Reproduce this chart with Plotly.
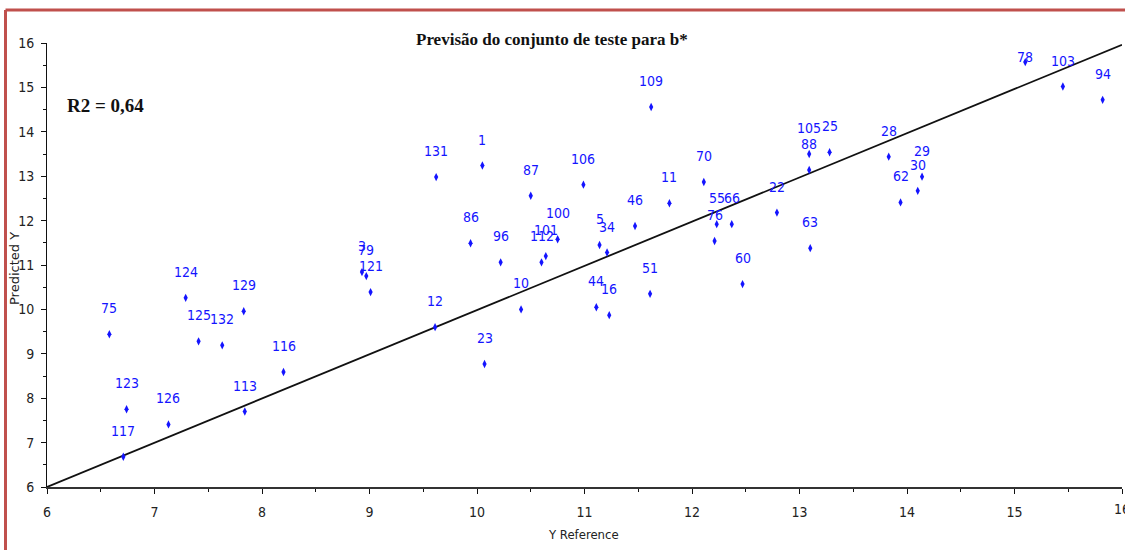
import plotly.graph_objects as go

# Test-set samples: identifier, reference value and predicted value of b*
sample_ids = [
    "75", "124", "125", "132", "129", "116", "3", "79", "121", "123",
    "117", "126", "113", "86", "96", "112", "101", "100", "5", "34",
    "10", "12", "23", "44", "16", "51", "60", "76", "55", "66",
    "70", "22", "63", "105", "88", "25", "109", "131", "1", "87",
    "106", "46", "11", "78", "103", "94", "28", "29", "30", "62",
]
y_reference = [
    6.58, 7.29, 7.41, 7.63, 7.83, 8.20, 8.93, 8.97, 9.01, 6.74,
    6.71, 7.13, 7.84, 9.94, 10.22, 10.60, 10.64, 10.75, 11.14, 11.21,
    10.41, 9.61, 10.07, 11.11, 11.23, 11.61, 12.47, 12.21, 12.23, 12.37,
    12.11, 12.79, 13.10, 13.09, 13.09, 13.28, 11.62, 9.62, 10.05, 10.50,
    10.99, 11.47, 11.79, 15.10, 15.45, 15.82, 13.83, 14.14, 14.10, 13.94,
]
y_predicted = [
    9.44, 10.26, 9.28, 9.19, 9.96, 8.59, 10.84, 10.75, 10.39, 7.75,
    6.68, 7.41, 7.70, 11.49, 11.06, 11.06, 11.20, 11.58, 11.45, 11.28,
    10.00, 9.60, 8.77, 10.05, 9.87, 10.35, 10.57, 11.54, 11.92, 11.92,
    12.87, 12.18, 11.38, 13.50, 13.14, 13.54, 14.56, 12.98, 13.24, 12.56,
    12.81, 11.88, 12.39, 15.57, 15.02, 14.72, 13.44, 12.99, 12.67, 12.41,
]

# Fitted regression line endpoints
fit_x = [6.0, 16.0]
fit_y = [6.0, 15.96]

axis_ticks = [6, 7, 8, 9, 10, 11, 12, 13, 14, 15, 16]
r2_text = "R2 = 0,64"
title_text = "Previsão do conjunto de teste para b*"

W, H = 1125, 550
M_L, M_R, M_T, M_B = 47, 3, 43, 63
AX_MIN, AX_MAX = 6, 16
PX_PER_Y = (H - M_T - M_B) / (AX_MAX - AX_MIN)

narrow = "Liberation Sans Narrow, Arial Narrow, DejaVu Sans Condensed, sans-serif"
serif = "Liberation Serif, Times New Roman, serif"
blue = "#1414ff"
tick_grey = "#222222"

fig = go.Figure()

fig.add_trace(go.Scatter(
    x=fit_x, y=fit_y, mode="lines",
    line=dict(color="#111111", width=1.8),
    hoverinfo="skip",
))

fig.add_trace(go.Scatter(
    x=y_reference, y=y_predicted, mode="markers",
    marker=dict(symbol="diamond-tall", size=6, color=blue),
    text=sample_ids,
    hovertemplate="%{text}: (%{x}, %{y})<extra></extra>",
))

annotations = []
# Sample labels sit above each point, kept inside the plotting area
for sid, xv, yv in zip(sample_ids, y_reference, y_predicted):
    room = (AX_MAX - yv) * PX_PER_Y - 14
    shift = min(26, room)
    annotations.append(dict(
        x=xv, y=yv, xref="x", yref="y", text=sid, showarrow=False,
        yshift=shift, xanchor="center", yanchor="middle",
        font=dict(family=narrow, size=14, color=blue),
    ))

plot_w = W - M_L - M_R
plot_h = H - M_T - M_B


def px_x(p):
    return (p - M_L) / plot_w


def px_y(p):
    return 1 - (p - M_T) / plot_h


annotations += [
    dict(x=px_x(552), y=px_y(40), xref="paper", yref="paper",
         text="<b>" + title_text + "</b>", showarrow=False,
         xanchor="center", yanchor="middle",
         font=dict(family=serif, size=17, color="#111111")),
    dict(x=px_x(105), y=px_y(105), xref="paper", yref="paper",
         text="<b>" + r2_text + "</b>", showarrow=False,
         xanchor="center", yanchor="middle",
         font=dict(family=serif, size=19, color="#111111")),
    dict(x=px_x(583), y=px_y(534), xref="paper", yref="paper",
         text="Y Reference", showarrow=False,
         xanchor="center", yanchor="middle",
         font=dict(family=narrow, size=13, color=tick_grey)),
    dict(x=px_x(14), y=px_y(269), xref="paper", yref="paper",
         text="Predicted Y", showarrow=False, textangle=-90,
         xanchor="center", yanchor="middle",
         font=dict(family="DejaVu Sans", size=13, color=tick_grey)),
    # last x tick label runs off the right edge of the page
    dict(x=AX_MAX, y=0, xref="x", yref="paper", text=str(AX_MAX),
         showarrow=False, xanchor="center", yanchor="top", yshift=-12,
         font=dict(family=narrow, size=14, color=tick_grey)),
]

frame_red = "#c0504d"
shapes = [
    dict(type="line", xref="paper", yref="paper",
         x0=px_x(5.5), x1=px_x(W + 2), y0=px_y(10), y1=px_y(10),
         line=dict(color=frame_red, width=3)),
    dict(type="line", xref="paper", yref="paper",
         x0=px_x(5.5), x1=px_x(5.5), y0=px_y(10), y1=px_y(H + 2),
         line=dict(color=frame_red, width=3)),
]

axis_common = dict(
    range=[AX_MIN, AX_MAX], tickvals=axis_ticks,
    ticktext=[str(t) for t in axis_ticks],
    showgrid=False, zeroline=False, showline=True,
    ticks="outside", ticklen=5, tickwidth=1, tickcolor="#111111",
    minor=dict(dtick=0.5, ticks="outside", ticklen=3, tickcolor="#111111"),
    tickfont=dict(family=narrow, size=14, color=tick_grey),
    fixedrange=True,
)

fig.update_layout(
    width=W, height=H, autosize=False,
    margin=dict(l=M_L, r=M_R, t=M_T, b=M_B, pad=0),
    paper_bgcolor="white", plot_bgcolor="white",
    showlegend=False,
    xaxis=dict(**axis_common, linecolor="#333333", linewidth=2,
               ticklabelstandoff=6),
    yaxis=dict(**axis_common, linecolor="#111111", linewidth=1,
               ticklabelstandoff=4),
    annotations=annotations,
    shapes=shapes,
)

fig.write_html("out.html")
